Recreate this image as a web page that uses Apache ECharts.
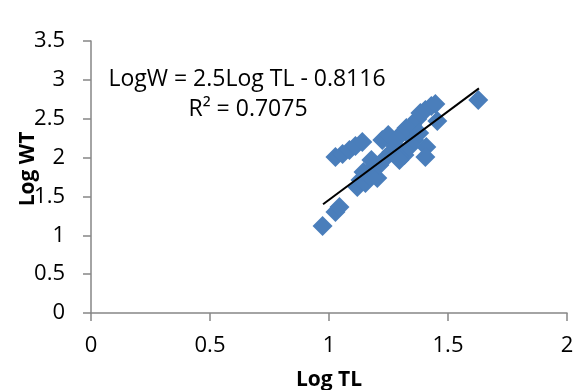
<!DOCTYPE html>
<html>
<head>
<meta charset="utf-8">
<script src="https://cdn.jsdelivr.net/npm/echarts@6/dist/echarts.min.js"></script>
<style>
  html, body { margin: 0; padding: 0; background: #fff; }
  #chart { width: 573px; height: 390px; }
</style>
</head>
<body>
<div id="chart"></div>
<script>
// log total length vs log weight
const logTL = [0.973, 1.027, 1.044, 1.027, 1.057, 1.086, 1.111, 1.140, 1.119, 1.132,
  1.153, 1.145, 1.170, 1.182, 1.203, 1.212, 1.178, 1.224, 1.249, 1.237,
  1.262, 1.279, 1.287, 1.308, 1.325, 1.317, 1.338, 1.350, 1.371, 1.384,
  1.405, 1.430, 1.447, 1.455, 1.409, 1.405, 1.358, 1.379, 1.627, 1.296];
const logWT = [1.12, 1.30, 1.364, 2.008, 2.046, 2.097, 2.149, 2.201, 1.622, 1.712,
  1.673, 1.815, 1.763, 1.866, 1.737, 1.905, 1.969, 2.227, 2.291, 1.995,
  2.072, 2.149, 2.252, 2.317, 2.381, 2.033, 2.136, 2.420, 2.497, 2.574,
  2.613, 2.664, 2.690, 2.471, 2.136, 2.008, 2.227, 2.317, 2.741, 1.969];
// trendline ends as drawn
const trendX = [0.975, 1.63];
const trendY = [1.40, 2.89];
const equation = "LogW = 2.5Log TL - 0.8116";
const rSquared = "R² = 0.7075";

const chart = echarts.init(document.getElementById("chart"));
const font = "'Open Sans', sans-serif";
const axisGrey = "#868686";

chart.setOption({
  animation: false,
  backgroundColor: "#fff",
  grid: { left: 91, right: 6, top: 41, bottom: 77, outerBoundsMode: "none" },
  xAxis: {
    type: "value",
    min: 0, max: 2, interval: 0.5,
    name: "Log TL",
    nameLocation: "middle",
    nameGap: 57,
    nameMoveOverlap: false,
    nameTextStyle: { fontFamily: font, fontWeight: "bold", fontSize: 21, color: "#000" },
    axisLine: { onZero: false, lineStyle: { color: axisGrey, width: 1.5 } },
    axisTick: { show: true, length: 8, lineStyle: { color: axisGrey, width: 1.5 } },
    axisLabel: { fontFamily: font, fontSize: 22, color: "#000", margin: 22 },
    splitLine: { show: false }
  },
  yAxis: {
    type: "value",
    min: 0, max: 3.5, interval: 0.5,
    name: "Log WT",
    nameLocation: "middle",
    nameGap: 52,
    nameMoveOverlap: false,
    nameTextStyle: { fontFamily: font, fontWeight: "bold", fontSize: 21, color: "#000", padding: [0, 0, 0, 16] },
    axisLine: { show: true, lineStyle: { color: axisGrey, width: 1.5 } },
    axisTick: { show: true, length: 8, lineStyle: { color: axisGrey, width: 1.5 } },
    axisLabel: { fontFamily: font, fontSize: 22, color: "#000", margin: 26 },
    splitLine: { show: false }
  },
  graphic: [
    { type: "text", x: 247, y: 79, style: { text: equation, fontFamily: font, fontSize: 23, fill: "#000", align: "center", verticalAlign: "middle" } },
    { type: "text", x: 248, y: 109, style: { text: rSquared, fontFamily: font, fontSize: 23, fill: "#000", align: "center", verticalAlign: "middle" } }
  ],
  series: [
    {
      type: "scatter",
      symbol: "diamond",
      symbolSize: 20,
      itemStyle: { color: "#4a7ebb", opacity: 1 },
      data: logTL.map((x, i) => [x, logWT[i]])
    },
    {
      type: "line",
      symbol: "none",
      lineStyle: { color: "#000", width: 2 },
      data: trendX.map((x, i) => [x, trendY[i]]),
      z: 3
    }
  ]
});
</script>
</body>
</html>
